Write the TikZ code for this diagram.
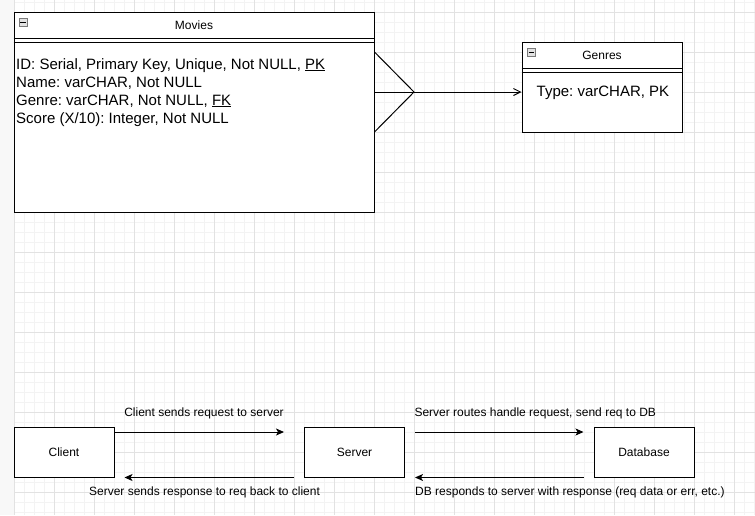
\documentclass[tikz,border=0pt]{standalone}
\usepackage{fontspec}
\setmainfont{Liberation Sans}
\usetikzlibrary{arrows.meta}
\frenchspacing
\definecolor{minorgrid}{HTML}{F3F3F3}
\definecolor{majorgrid}{HTML}{E2E2E2}
\definecolor{stripgray}{HTML}{F8F8F8}
\definecolor{iconfill}{HTML}{E2E2E2}
\definecolor{iconline}{HTML}{7A7A7A}
\begin{document}
\begin{tikzpicture}[x=1pt,y=-1pt,
  tablebox/.style={draw, line width=1pt, inner sep=0pt, fill=white},
  plainbox/.style={draw, line width=1pt, fill=white, minimum width=100pt, minimum height=50pt, inner sep=0pt, font=\fontsize{12}{14}\selectfont},
  titletext/.style={anchor=base, inner sep=0pt, font=\fontsize{12}{14}\selectfont},
  attrtext/.style={anchor=base west, inner sep=0pt, font=\fontsize{15}{17}\selectfont},
  labeltext/.style={anchor=base, inner sep=0pt, font=\fontsize{12}{14}\selectfont},
  labelleft/.style={anchor=base west, inner sep=0pt, font=\fontsize{12}{14}\selectfont},
  flow/.style={-{Stealth[length=8pt,width=7pt,inset=2pt]}, line width=1pt},
  relation/.style={line width=1pt},
  openhead/.style={-{Straight Barb[length=7pt,width=7pt]}, line width=1pt},
  collapseicon/.style={draw=iconline, fill=iconfill, line width=0.8pt, minimum width=8pt, minimum height=8pt, inner sep=0pt}
]
\useasboundingbox (0,0) rectangle (755,515);
% background
\fill[white] (0,0) rectangle (755,515);
\fill[stripgray] (0,0) rectangle (13.5,515);
\foreach \x in {24,34,...,754} \draw[minorgrid, line width=0.8pt] (\x,0) -- (\x,515);
\foreach \y in {2,12,...,512} \draw[minorgrid, line width=0.8pt] (14,\y) -- (755,\y);
\foreach \x in {14,54,...,734} \draw[majorgrid, line width=0.8pt] (\x,0) -- (\x,515);
\foreach \y in {12,52,...,492} \draw[majorgrid, line width=0.8pt] (14,\y) -- (755,\y);

% Movies table
\node[tablebox, minimum width=360pt, minimum height=200pt] (Movies) at (194,112) {};
\draw[line width=1pt] (Movies.west |- 0,38) -- (Movies.east |- 0,38);
\draw[line width=1pt] (Movies.west |- 0,42) -- (Movies.east |- 0,42);
\node[collapseicon] (MoviesIcon) at (23,22) {};
\draw[line width=0.9pt] ([xshift=1.8pt]MoviesIcon.west) -- ([xshift=-1.8pt]MoviesIcon.east);
\node[titletext] (MoviesTitle) at (194,29.5) {Movies};
\node[attrtext] (movieId) at (16,69) {ID: Serial, Primary Key, Unique, Not NULL, \underline{PK}};
\node[attrtext] (movieName) at (16,87) {Name: varCHAR, Not NULL};
\node[attrtext] (movieGenre) at (16,105) {Genre: varCHAR, Not NULL, \underline{FK}};
\node[attrtext] (movieScore) at (16,123) {Score (X/10): Integer, Not NULL};

% Genres table
\node[tablebox, minimum width=160pt, minimum height=90pt] (Genres) at (602,87) {};
\draw[line width=1pt] (Genres.west |- 0,68) -- (Genres.east |- 0,68);
\draw[line width=1pt] (Genres.west |- 0,72) -- (Genres.east |- 0,72);
\node[collapseicon] (GenresIcon) at (531.5,52.2) {};
\draw[line width=0.9pt] ([xshift=1.8pt]GenresIcon.west) -- ([xshift=-1.8pt]GenresIcon.east);
\node[titletext] (GenresTitle) at (602,59.5) {Genres};
\node[attrtext] (genreType) at (536.5,96) {Type: varCHAR, PK};

% crow's foot relation
\coordinate (cf) at (414,92);
\coordinate (cfTop) at (374.5,52);
\coordinate (cfMid) at (374.5,92);
\coordinate (cfBot) at (374.5,132);
\draw[relation] (cfTop) -- (cf) -- (cfBot);
\draw[relation] (cfMid) -- (cf);
\draw[openhead] (cf) -- (cf -| Genres.west);

% client / server / database
\node[plainbox] (Client) at (64,452) {Client};
\node[plainbox] (Server) at (354.5,452) {Server};
\node[plainbox] (Database) at (644,452) {Database};

\draw[flow, shorten >=20pt] (Client.east |- 0,432) -- (Server.west |- 0,432);
\draw[flow, shorten <=10pt, shorten >=10pt] (Server.south west) -- (Client.south east);
\draw[flow, shorten <=10pt, shorten >=10pt] (Server.east |- 0,432) -- (Database.west |- 0,432);
\draw[flow, shorten <=10pt, shorten >=10pt] (Database.south west) -- (Server.south east);

\node[labeltext] (lblReq) at (204,416) {Client sends request to server};
\node[labeltext] (lblResp) at (204.5,495.5) {Server sends response to req back to client};
\node[labelleft] (lblRoute) at (414.3,416) {Server routes handle request, send req to DB};
\node[labelleft] (lblDb) at (415,495.5) {DB responds to server with response (req data or err, etc.)};
\end{tikzpicture}
\end{document}
